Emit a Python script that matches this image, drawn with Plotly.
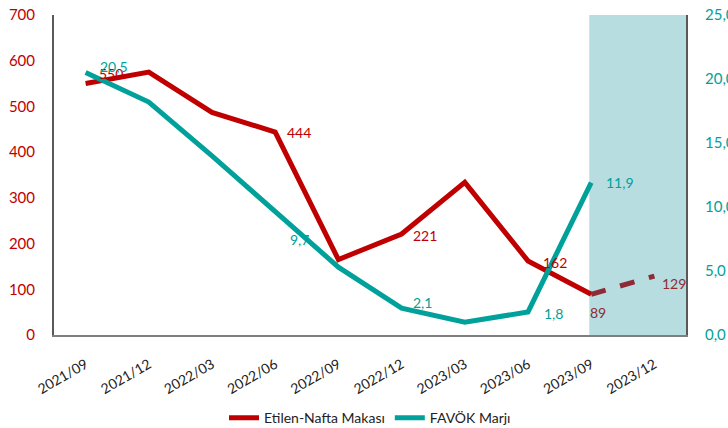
import plotly.graph_objects as go

categories = ["2021/09", "2021/12", "2022/03", "2022/06", "2022/09",
              "2022/12", "2023/03", "2023/06", "2023/09", "2023/12"]
spread = [550, 575, 487, 444, 165, 221, 334, 162, 89, None]
spread_forecast = [None, None, None, None, None, None, None, None, 89, 129]
margin = [20.5, 18.2, 14.0, 9.7, 5.3, 2.1, 1.0, 1.8, 11.9, None]

spread_labels = {0: "550", 3: "444", 5: "221", 7: "162"}
forecast_labels = {8: "89", 9: "129"}
margin_labels = {0: "20,5", 3: "9,7", 5: "2,1", 7: "1,8", 8: "11,9"}

RED = "#C00000"
TEAL = "#00A19A"
MAROON = "#8E2B36"
SHADE = "#B7DDE0"
FONT = "Lato"

x = list(range(len(categories)))

fig = go.Figure()
fig.add_trace(go.Scatter(x=x, y=spread, mode="lines", name="Etilen-Nafta Makası",
                         line=dict(color=RED, width=5), yaxis="y"))
fig.add_trace(go.Scatter(x=x, y=margin, mode="lines", name="FAVÖK Marjı",
                         line=dict(color=TEAL, width=5), yaxis="y2"))
fig.add_trace(go.Scatter(x=x, y=spread_forecast, mode="lines", showlegend=False,
                         line=dict(color=MAROON, width=5, dash="dash"), yaxis="y"))

shifts_spread = {0: (25, 10), 3: (24, 0), 5: (23, -2), 7: (27, -2)}
shifts_fc = {8: (7, -18), 9: (20, -7)}
shifts_margin = {0: (28, 6), 3: (24, -29), 5: (21, 6), 7: (25, -2), 8: (29, 0)}

ann = []
for i, t in spread_labels.items():
    dx, dy = shifts_spread[i]
    ann.append(dict(x=x[i], y=spread[i], xref="x", yref="y", text=t, showarrow=False,
                    xshift=dx, yshift=dy, font=dict(color=RED, size=14, family=FONT)))
for i, t in forecast_labels.items():
    dx, dy = shifts_fc[i]
    ann.append(dict(x=x[i], y=spread_forecast[i], xref="x", yref="y", text=t, showarrow=False,
                    xshift=dx, yshift=dy, font=dict(color=MAROON, size=14, family=FONT)))
for i, t in margin_labels.items():
    dx, dy = shifts_margin[i]
    ann.append(dict(x=x[i], y=margin[i], xref="x", yref="y2", text=t, showarrow=False,
                    xshift=dx, yshift=dy, font=dict(color=TEAL, size=14, family=FONT)))

fig.update_layout(
    width=728, height=428,
    margin=dict(l=54, r=42, t=15, b=93, autoexpand=False),
    paper_bgcolor="white", plot_bgcolor="white",
    font=dict(family=FONT, size=14),
    separators=",.",
    showlegend=True,
    legend=dict(orientation="h", x=0.5, xanchor="center", y=-0.26, yanchor="middle",
                font=dict(size=14, color="#222222", family=FONT)),
    xaxis=dict(range=[-0.5, 9.5], tickmode="array", tickvals=x, ticktext=categories,
               tickangle=-30, showgrid=False, zeroline=False, showline=True,
               linecolor="#7F7F7F", linewidth=2, ticks="", ticklabelstandoff=14,
               automargin=False,
               tickfont=dict(size=14, color="#222222", family=FONT)),
    yaxis=dict(range=[0, 700], dtick=100, showgrid=False, zeroline=False, showline=True,
               linecolor="#595959", linewidth=2, ticks="", ticklabelstandoff=14,
               automargin=False,
               tickfont=dict(size=15, color=RED, family=FONT)),
    yaxis2=dict(range=[0, 25], dtick=5, tickformat=".1f", overlaying="y", side="right",
                showgrid=False, zeroline=False, showline=True, linecolor="#595959",
                linewidth=2, ticks="", ticklabelstandoff=14, automargin=False,
                tickfont=dict(size=15, color=TEAL, family=FONT)),
    shapes=[dict(type="rect", xref="x", yref="paper", x0=7.97, x1=9.5, y0=0, y1=1,
                 fillcolor=SHADE, line=dict(width=0), layer="below")],
    annotations=ann,
)

fig.write_html("out.html")
